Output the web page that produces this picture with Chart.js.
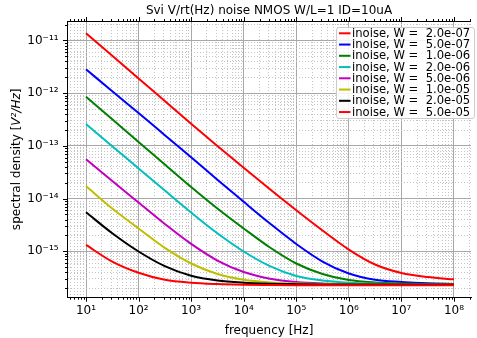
<!DOCTYPE html>
<html>
<head>
<meta charset="utf-8">
<script src="https://cdn.jsdelivr.net/npm/chart.js@4"></script>
<style>
  html, body { margin: 0; padding: 0; background: #fff; overflow: hidden; }
</style>
</head>
<body>
<canvas id="chart" width="477" height="338"></canvas>
<script>
// frequency points (Hz), one reading per half decade
const freq = [10, 31.6, 100, 316, 1e3, 3.16e3, 1e4, 3.16e4, 1e5, 3.16e5, 1e6, 3.16e6, 1e7, 3.16e7, 1e8]

const widths = ['2.0e-07', '5.0e-07', '1.0e-06', '2.0e-06', '5.0e-06', '1.0e-05', '2.0e-05', '5.0e-05']
const colors = ['#ff0000', '#0000ff', '#008000', '#00bfbf', '#bf00bf', '#bfbf00', '#000000', '#ff0000']

// spectral density [V^2/Hz]
const w2e7 = [1.37e-11, 5.13e-12, 1.91e-12, 7.08e-13, 2.64e-13, 1.00e-13, 3.84e-14, 1.50e-14, 6.00e-15, 2.48e-15, 1.08e-15, 5.62e-16, 3.88e-16, 3.25e-16, 2.94e-16]
const w5e7 = [2.84e-12, 1.09e-12, 4.21e-13, 1.60e-13, 6.08e-14, 2.29e-14, 8.70e-15, 3.37e-15, 1.38e-15, 6.40e-16, 3.79e-16, 2.88e-16, 2.62e-16, 2.47e-16, 2.40e-16]
const w1e6 = [8.58e-13, 3.20e-13, 1.19e-13, 4.44e-14, 1.66e-14, 6.49e-15, 2.71e-15, 1.18e-15, 5.87e-16, 3.71e-16, 2.85e-16, 2.56e-16, 2.45e-16, 2.40e-16, 2.37e-16]
const w2e6 = [2.60e-13, 9.83e-14, 3.73e-14, 1.42e-14, 5.45e-15, 2.20e-15, 9.91e-16, 5.22e-16, 3.40e-16, 2.79e-16, 2.54e-16, 2.44e-16, 2.40e-16, 2.37e-16, 2.37e-16]
const w5e6 = [5.57e-14, 2.16e-14, 8.43e-15, 3.30e-15, 1.38e-15, 6.69e-16, 4.05e-16, 3.02e-16, 2.62e-16, 2.46e-16, 2.40e-16, 2.37e-16, 2.37e-16, 2.37e-16, 2.37e-16]
const w1e5 = [1.73e-14, 6.49e-15, 2.71e-15, 1.16e-15, 5.87e-16, 3.71e-16, 2.89e-16, 2.57e-16, 2.44e-16, 2.39e-16, 2.37e-16, 2.37e-16, 2.37e-16, 2.37e-16, 2.37e-16]
const w2e5 = [5.50e-15, 2.20e-15, 9.91e-16, 5.22e-16, 3.43e-16, 2.79e-16, 2.54e-16, 2.43e-16, 2.38e-16, 2.35e-16, 2.34e-16, 2.34e-16, 2.34e-16, 2.34e-16, 2.34e-16]
const w5e5 = [1.32e-15, 6.38e-16, 3.91e-16, 2.88e-16, 2.53e-16, 2.39e-16, 2.32e-16, 2.29e-16, 2.27e-16, 2.26e-16, 2.26e-16, 2.26e-16, 2.26e-16, 2.26e-16, 2.26e-16]

const series = [w2e7, w5e7, w1e6, w2e6, w5e6, w1e5, w2e5, w5e5]

const SUP = { '0': '⁰', '1': '¹', '2': '²', '3': '³', '4': '⁴', '5': '⁵', '6': '⁶', '7': '⁷', '8': '⁸', '9': '⁹', '-': '⁻' }

function isPow10(v) {
  const e = Math.log10(v)
  return Math.abs(e - Math.round(e)) < 1e-7
}
function isWholeTick(v) {
  const e = Math.floor(Math.log10(v) + 1e-9)
  const s = v / Math.pow(10, e)
  return Math.abs(s - Math.round(s)) < 1e-6
}
function powLabel(v) {
  const e = Math.round(Math.log10(v))
  return '10' + String(e).split('').map(c => SUP[c]).join('')
}

const gridColor = ctx => {
  if (!ctx.tick || !isWholeTick(ctx.tick.value)) return 'rgba(0,0,0,0)'
  return isPow10(ctx.tick.value) ? '#a8a8a8' : '#c4c4c4'
}
const gridDash = ctx => (ctx.tick && !isPow10(ctx.tick.value)) ? [1, 2] : []

// y label with the unit in italics, as mathtext renders it
const yLabelParts = [
  ['spectral density [', 'normal'],
  ['V²/Hz', 'italic'],
  [']', 'normal'],
]

// frame top edge, tick marks, y label and the in-plot legend
const extras = {
  id: 'extras',
  afterDraw(chart) {
    const { ctx, chartArea: a, scales } = chart
    ctx.save()
    ctx.strokeStyle = '#000'
    ctx.lineWidth = 1
    ctx.beginPath()
    ctx.moveTo(a.left, a.top + 0.5)
    ctx.lineTo(a.right, a.top + 0.5)
    ctx.stroke()

    ctx.beginPath()
    scales.x.ticks.forEach(t => {
      if (!isWholeTick(t.value)) return
      const px = Math.round(scales.x.getPixelForValue(t.value)) + 0.5
      const len = isPow10(t.value) ? 4 : 2
      ctx.moveTo(px, a.bottom); ctx.lineTo(px, a.bottom + len)
      ctx.moveTo(px, a.top); ctx.lineTo(px, a.top - len)
    })
    scales.y.ticks.forEach(t => {
      if (!isWholeTick(t.value)) return
      const py = Math.round(scales.y.getPixelForValue(t.value)) + 0.5
      const len = isPow10(t.value) ? 4 : 2
      ctx.moveTo(a.left, py); ctx.lineTo(a.left - len, py)
    })
    ctx.stroke()

    // y axis label
    ctx.save()
    ctx.translate(17, (a.top + a.bottom) / 2)
    ctx.rotate(-Math.PI / 2)
    ctx.fillStyle = '#000'
    ctx.textBaseline = 'middle'
    ctx.textAlign = 'left'
    const fontOf = st => `${st} 12px "DejaVu Sans"`
    let total = 0
    yLabelParts.forEach(([txt, st]) => { ctx.font = fontOf(st); total += ctx.measureText(txt).width })
    let cx = -total / 2
    yLabelParts.forEach(([txt, st]) => {
      ctx.font = fontOf(st)
      ctx.fillText(txt, cx, 0)
      cx += ctx.measureText(txt).width
    })
    ctx.restore()

    // legend
    const bx = 336.5, by = 27.5, bw = 138, bh = 91
    ctx.fillStyle = 'rgba(255,255,255,0.85)'
    ctx.strokeStyle = '#cccccc'
    ctx.beginPath()
    ctx.roundRect(bx, by, bw, bh, 2.5)
    ctx.fill()
    ctx.stroke()
    ctx.font = '11.6px "DejaVu Sans"'
    ctx.textBaseline = 'middle'
    ctx.textAlign = 'left'
    chart.data.datasets.forEach((ds, i) => {
      const y = 33.3 + i * 11.25
      ctx.strokeStyle = ds.borderColor
      ctx.lineWidth = 2
      ctx.beginPath()
      ctx.moveTo(339, y); ctx.lineTo(350.5, y)
      ctx.stroke()
      ctx.fillStyle = '#000'
      ctx.fillText(ds.label, 352, y + 0.5)
    })
    ctx.restore()
  }
}

Chart.defaults.font.family = '"DejaVu Sans"'
Chart.defaults.font.size = 12
Chart.defaults.color = '#000'

new Chart(document.getElementById('chart'), {
  type: 'line',
  data: {
    datasets: series.map((vals, i) => ({
      label: `inoise, W =  ${widths[i]}`,
      data: freq.map((f, k) => ({ x: f, y: vals[k] })),
      borderColor: colors[i],
      backgroundColor: colors[i],
      borderWidth: 2,
      pointRadius: 0,
      cubicInterpolationMode: 'monotone',
      order: series.length - i,
    })),
  },
  options: {
    responsive: false,
    animation: false,
    layout: { padding: 0 },
    plugins: {
      legend: { display: false },
      tooltip: { enabled: false },
      title: {
        display: true,
        text: 'Svi V/rt(Hz) noise NMOS W/L=1 ID=10uA',
        font: { size: 12, weight: 'normal' },
        color: '#000',
        fullSize: false,
        padding: { top: 4, bottom: 2.6 },
      },
    },
    scales: {
      x: {
        type: 'logarithmic',
        min: 4.35,
        max: 2.11e8,
        afterFit: s => { s.height = 40.3 },
        grid: { color: gridColor, lineWidth: 1, drawTicks: false },
        border: { display: true, color: '#000', width: 1, dash: gridDash },
        ticks: {
          autoSkip: false,
          maxRotation: 0,
          padding: 6,
          callback: v => isPow10(v) ? powLabel(v) : '',
        },
        title: { display: true, text: 'frequency [Hz]', padding: { top: 7, bottom: 0 } },
      },
      y: {
        type: 'logarithmic',
        min: 1.318e-16,
        max: 2.344e-11,
        afterFit: s => { s.width = 67 },
        grid: { color: gridColor, lineWidth: 1, drawTicks: false },
        border: { display: true, color: '#000', width: 1, dash: gridDash },
        ticks: {
          autoSkip: false,
          padding: 8.5,
          callback: v => isPow10(v) ? powLabel(v) : '',
        },
      },
    },
  },
  plugins: [extras],
})
</script>
</body>
</html>
